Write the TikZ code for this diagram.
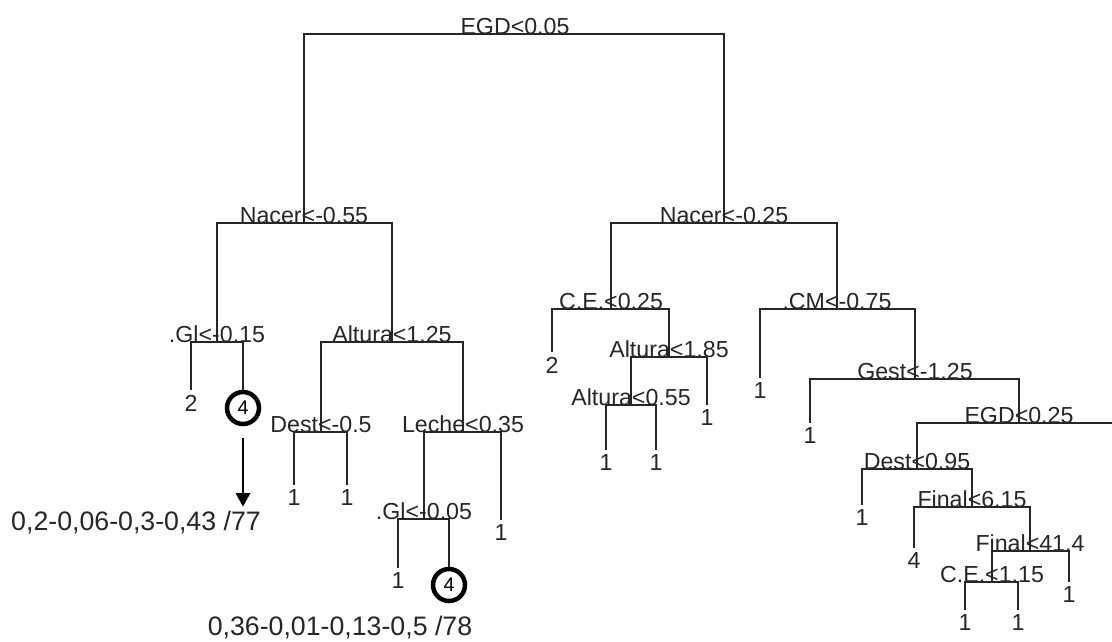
\documentclass[tikz,border=0pt]{standalone}
\usepackage{fontspec}
\setmainfont{Liberation Sans}
\usetikzlibrary{arrows.meta}

\begin{document}
\begin{tikzpicture}[x=0.025cm, y=-0.025cm,
  split/.style={anchor=base, inner sep=0pt, font=\fontsize{16.5}{18}\selectfont, text=black!85},
  leaf/.style={anchor=north, inner xsep=0pt, inner ysep=3.5pt, outer sep=0pt, font=\fontsize{16.5}{18}\selectfont, text=black!85},
  hot/.style={circle, draw=black, line width=3.2pt, minimum size=0.8cm, inner sep=0pt, font=\fontsize{14}{16}\selectfont},
  result/.style={font=\fontsize{19}{22}\selectfont, text=black!85},
  branch/.style={draw=black!85, line width=1.5pt},
  pointer/.style={draw=black, line width=1.3pt, -{Triangle[width=0.36cm, length=0.34cm]}}]

  \useasboundingbox (0,0) rectangle (1112,641);

  % --- NHÃN CÁC NÚT CHIA ---
  \node[split] (egdA)  at (515, 34) {EGD<0.05};
  \node[split] (nacA)  at (304, 223) {Nacer<-0.55};
  \node[split] (nacB)  at (724, 223) {Nacer<-0.25};
  \node[split] (glA)   at (217, 342) {.Gl<-0.15};
  \node[split] (altA)  at (392, 342) {Altura<1.25};
  \node[split] (destA) at (321, 432) {Dest<-0.5};
  \node[split] (lecA)  at (463, 432) {Leche<0.35};
  \node[split] (glB)   at (424, 519) {.Gl<-0.05};
  \node[split] (ceA)   at (611, 309) {C.E.<0.25};
  \node[split] (altB)  at (669, 357) {Altura<1.85};
  \node[split] (altC)  at (631, 405) {Altura<0.55};
  \node[split] (cmA)   at (837, 309) {.CM<-0.75};
  \node[split] (gestA) at (915, 379) {Gest<-1.25};
  \node[split] (egdB)  at (1019, 423) {EGD<0.25};
  \node[split] (destB) at (917, 469) {Dest<0.95};
  \node[split] (finA)  at (972, 507) {Final<6.15};
  \node[split] (finB)  at (1030, 551) {Final<41.4};
  \node[split] (ceB)   at (992, 582) {C.E.<1.15};
  \coordinate (edgeR) at (1112, 423);

  % --- CÁC LÁ ---
  \node[leaf] (lfA) at (191, 390) {2};
  \node[hot]  (hotA) at (243, 408) {4};
  \node[leaf] (lfB) at (294, 485) {1};
  \node[leaf] (lfC) at (347, 485) {1};
  \node[leaf] (lfD) at (398, 568) {1};
  \node[hot]  (hotB) at (449, 585) {4};
  \node[leaf] (lfE) at (501, 520) {1};
  \node[leaf] (lfF) at (552, 352) {2};
  \node[leaf] (lfG) at (606, 450) {1};
  \node[leaf] (lfH) at (656, 450) {1};
  \node[leaf] (lfI) at (707, 405) {1};
  \node[leaf] (lfJ) at (760, 378) {1};
  \node[leaf] (lfK) at (810, 423) {1};
  \node[leaf] (lfL) at (862, 505) {1};
  \node[leaf] (lfM) at (914, 548) {4};
  \node[leaf] (lfN) at (965, 610) {1};
  \node[leaf] (lfO) at (1018, 610) {1};
  \node[leaf] (lfP) at (1069, 582) {1};

  % --- CÁC NHÁNH ---
  \draw[branch] (nacA.base) |- (egdA.base) -| (nacB.base);
  \draw[branch] (glA.base) |- (nacA.base) -| (altA.base);
  \draw[branch] (lfA.north) |- (glA.base) -| (hotA.north);
  \draw[branch] (destA.base) |- (altA.base) -| (lecA.base);
  \draw[branch] (lfB.north) |- (destA.base) -| (lfC.north);
  \draw[branch] (glB.base) |- (lecA.base) -| (lfE.north);
  \draw[branch] (lfD.north) |- (glB.base) -| (hotB.north);
  \draw[branch] (ceA.base) |- (nacB.base) -| (cmA.base);
  \draw[branch] (lfF.north) |- (ceA.base) -| (altB.base);
  \draw[branch] (altC.base) |- (altB.base) -| (lfI.north);
  \draw[branch] (lfG.north) |- (altC.base) -| (lfH.north);
  \draw[branch] (lfJ.north) |- (cmA.base) -| (gestA.base);
  \draw[branch] (lfK.north) |- (gestA.base) -| (egdB.base);
  \draw[branch] (destB.base) |- (egdB.base) -- (edgeR);
  \draw[branch] (lfL.north) |- (destB.base) -| (finA.base);
  \draw[branch] (lfM.north) |- (finA.base) -| (finB.base);
  \draw[branch] (ceB.base) |- (finB.base) -| (lfP.north);
  \draw[branch] (lfN.north) |- (ceB.base) -| (lfO.north);

  % --- KẾT QUẢ CỦA HAI NÚT ĐÁNH DẤU ---
  \node[result] (resA) at (136, 523) {0,2-0,06-0,3-0,43 /77};
  \node[result] (resB) at (340, 628) {0,36-0,01-0,13-0,5 /78};
  \draw[pointer] ([yshift=-0.3cm]hotA.south) -- (hotA |- resA.north);

\end{tikzpicture}
\end{document}
